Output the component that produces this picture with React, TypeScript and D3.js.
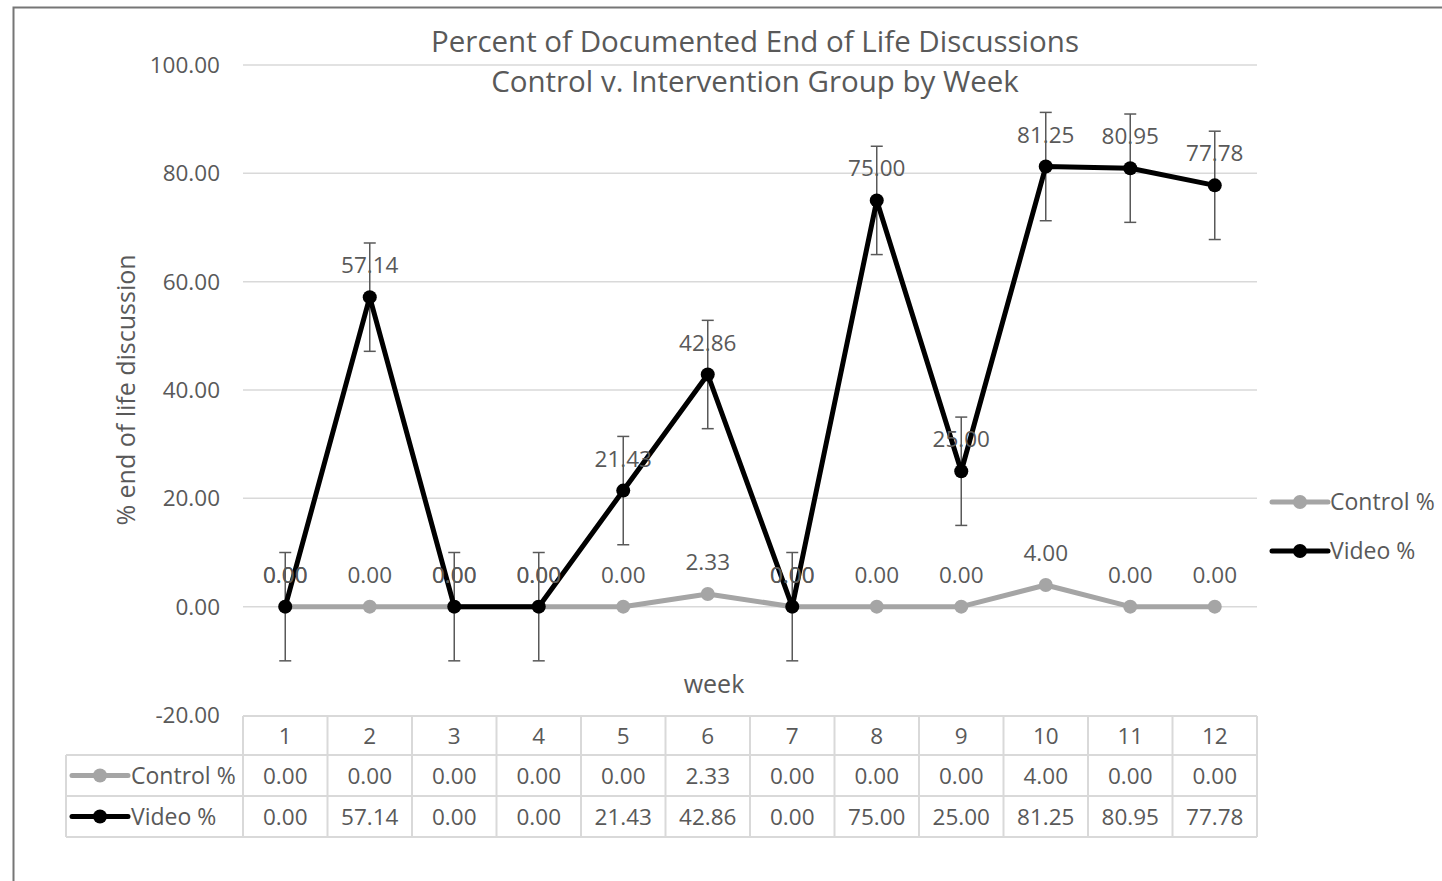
import React from 'react';
import * as d3 from 'd3';

const WIDTH = 1442;
const HEIGHT = 881;
const PLOT = { left: 243, right: 1257, top: 65, bottom: 715 };
const FONT = '"Segoe UI", "Open Sans", "Noto Sans", sans-serif';
const TEXT = '#595959';
const GRID = '#D9D9D9';

const weeks = ['1', '2', '3', '4', '5', '6', '7', '8', '9', '10', '11', '12'];
const controlValues = [0, 0, 0, 0, 0, 2.33, 0, 0, 0, 4.0, 0, 0];
const videoValues = [0, 57.14, 0, 0, 21.43, 42.86, 0, 75.0, 25.0, 81.25, 80.95, 77.78];
const videoError = 10;
const yTicks = [-20, 0, 20, 40, 60, 80, 100];

const series = [
  { name: 'Control %', values: controlValues, color: '#A5A5A5' },
  { name: 'Video %', values: videoValues, color: '#000000' },
];

const x = d3.scaleBand<string>().domain(weeks).range([PLOT.left, PLOT.right]);
const y = d3.scaleLinear().domain([-20, 100]).range([PLOT.bottom, PLOT.top]);
const cx = (w: string) => (x(w) as number) + x.bandwidth() / 2;

const line = d3.line<number>()
  .x((_, i) => cx(weeks[i]))
  .y(d => y(d));

// excel style: plain hyphen for negatives
const fmt = (v: number) => d3.format('.2f')(v).replace('\u2212', '-');

// data table rows
const TABLE = { legendLeft: 66, rows: [716, 755, 796, 837] };
const FS = 22.5;

function LegendIcon({ x0, yy, color }: { x0: number; yy: number; color: string }) {
  return (
    <g>
      <line x1={x0} x2={x0 + 56} y1={yy} y2={yy} stroke={color} strokeWidth={5} strokeLinecap="round" />
      <circle cx={x0 + 28} cy={yy} r={7} fill={color} />
    </g>
  );
}

export default function App() {
  const [t0, t1, t2, t3] = TABLE.rows;
  return (
    <div style={{ position: 'absolute', left: 0, top: 0 }}>
      <svg width={WIDTH} height={HEIGHT} fontFamily={FONT}>
        <rect x={0} y={0} width={WIDTH} height={HEIGHT} fill="#fff" />
        <rect x={13.5} y={7.5} width={WIDTH + 20} height={HEIGHT + 20} fill="none" stroke="#767676" strokeWidth={2} />

        {/* title */}
        <text x={755} y={52} textAnchor="middle" fontSize={29.5} fill={TEXT}>Percent of Documented End of Life Discussions</text>
        <text x={755} y={92} textAnchor="middle" fontSize={29.5} fill={TEXT}>Control v. Intervention Group by Week</text>

        {/* gridlines + y ticks */}
        {yTicks.map(t => (
          <g key={t}>
            {t !== -20 && (
              <line x1={PLOT.left} x2={PLOT.right} y1={y(t)} y2={y(t)} stroke={GRID} strokeWidth={1.5} />
            )}
            <text x={220} y={y(t) + 8} textAnchor="end" fontSize={FS} fill={TEXT}>{fmt(t)}</text>
          </g>
        ))}

        {/* axis titles */}
        <text transform={`translate(135,${y(40)}) rotate(-90)`} textAnchor="middle" fontSize={25} fill={TEXT}>% end of life discussion</text>
        <text x={714} y={693} textAnchor="middle" fontSize={25} fill={TEXT}>week</text>

        {/* error bars for video */}
        {videoValues.map((v, i) => {
          const px = cx(weeks[i]);
          return (
            <g key={'e' + i} stroke="#595959" strokeWidth={1.5}>
              <line x1={px} x2={px} y1={y(v - videoError)} y2={y(v + videoError)} />
              <line x1={px - 6} x2={px + 6} y1={y(v - videoError)} y2={y(v - videoError)} />
              <line x1={px - 6} x2={px + 6} y1={y(v + videoError)} y2={y(v + videoError)} />
            </g>
          );
        })}

        {/* series lines and markers */}
        {series.map(s => (
          <g key={s.name}>
            <path d={line(s.values) || ''} fill="none" stroke={s.color} strokeWidth={5} strokeLinejoin="round" />
            {s.values.map((v, i) => (
              <circle key={i} cx={cx(weeks[i])} cy={y(v)} r={7} fill={s.color} />
            ))}
          </g>
        ))}

        {/* data labels */}
        {series.map(s => (
          <g key={'l' + s.name}>
            {s.values.map((v, i) => (
              <text key={i} x={cx(weeks[i])} y={y(v) - 24} textAnchor="middle" fontSize={FS} fill={TEXT}>{fmt(v)}</text>
            ))}
          </g>
        ))}

        {/* legend */}
        {series.map((s, i) => (
          <g key={'lg' + s.name}>
            <LegendIcon x0={1272} yy={502 + i * 49} color={s.color} />
            <text x={1330} y={502 + i * 49 + 8} fontSize={23} fill={TEXT}>{s.name}</text>
          </g>
        ))}

        {/* data table */}
        <g stroke={GRID} strokeWidth={2} fill="none">
          <line x1={PLOT.left} x2={PLOT.right} y1={t0} y2={t0} />
          <line x1={TABLE.legendLeft} x2={PLOT.right} y1={t1} y2={t1} />
          <line x1={TABLE.legendLeft} x2={PLOT.right} y1={t2} y2={t2} />
          <line x1={TABLE.legendLeft} x2={PLOT.right} y1={t3} y2={t3} />
          <line x1={TABLE.legendLeft} x2={TABLE.legendLeft} y1={t1} y2={t3} />
          {weeks.map(w => (
            <line key={w} x1={x(w) as number} x2={x(w) as number} y1={t0} y2={t3} />
          ))}
          <line x1={PLOT.right} x2={PLOT.right} y1={t0} y2={t3} />
        </g>
        {weeks.map(w => (
          <text key={'h' + w} x={cx(w)} y={(t0 + t1) / 2 + 8} textAnchor="middle" fontSize={FS} fill={TEXT}>{w}</text>
        ))}
        {series.map((s, r) => {
          const ry = (TABLE.rows[r + 1] + TABLE.rows[r + 2]) / 2;
          return (
            <g key={'row' + s.name}>
              <LegendIcon x0={72} yy={ry} color={s.color} />
              <text x={131} y={ry + 8} fontSize={23} fill={TEXT}>{s.name}</text>
              {s.values.map((v, i) => (
                <text key={i} x={cx(weeks[i])} y={ry + 8} textAnchor="middle" fontSize={FS} fill={TEXT}>{fmt(v)}</text>
              ))}
            </g>
          );
        })}
      </svg>
    </div>
  );
}
